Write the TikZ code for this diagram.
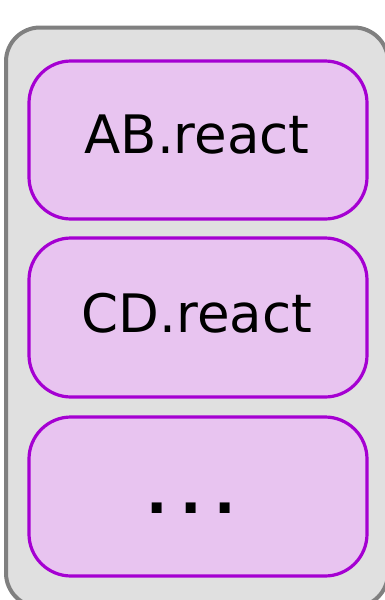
\documentclass[tikz,border=0pt]{standalone}
\usepackage{fontspec}
\setmainfont{DejaVu Sans}
\definecolor{outerfill}{RGB}{224,224,224}
\definecolor{outerline}{RGB}{128,128,128}
\definecolor{cellfill}{RGB}{232,196,240}
\definecolor{cellline}{RGB}{165,0,210}
\begin{document}
\begin{tikzpicture}[x=1pt,y=-1pt,
  container/.style={draw=outerline,fill=outerfill,line width=4pt,rounded corners=34pt},
  cell/.style={draw=cellline,fill=cellfill,line width=3.2pt,rounded corners=42pt},
  label/.style={anchor=base,inner sep=0pt,font=\fontsize{53}{60}\selectfont}]
\useasboundingbox (0,0) rectangle (385,600);
\begin{scope}
\clip (0,0) rectangle (385,600);
% outer container, running just past the right and bottom edges
\draw[container] (6,27.5) rectangle (388,607);
\end{scope}
% stacked cells
\draw[cell] (29,61) rectangle (367,219);
\draw[cell] (29,238) rectangle (367,397);
\draw[cell] (29,417) rectangle (367,576);
\node[label] (ab) at (197,153) {AB.react};
\node[label] (cd) at (197,332) {CD.react};
\node[label,font=\bfseries\fontsize{56}{60}\selectfont] (more) at (191,513) {.\kern13pt.\kern13pt.};
\end{tikzpicture}
\end{document}
